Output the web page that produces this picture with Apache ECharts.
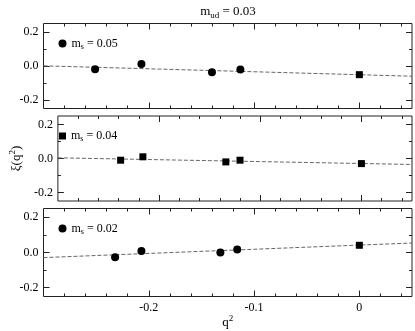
<!DOCTYPE html>
<html>
<head>
<meta charset="utf-8">
<script src="https://cdn.jsdelivr.net/npm/echarts@6/dist/echarts.min.js"></script>
<style>
html, body { margin: 0; padding: 0; background: #fff; }
#chart { width: 415px; height: 331px; }
</style>
</head>
<body>
<div id="chart"></div>
<script>
// values, one panel per m_s
var msLabels = ['0.05', '0.04', '0.02'];
var msSymbols = ['circle', 'rect', 'circle'];

var points05 = [[-0.251, -0.019], [-0.207, 0.012], [-0.140, -0.037], [-0.113, -0.021]];
var zero05 = [[0, -0.051]];
var fit05 = [[-0.3, 0.001], [0.05, -0.060]];

var points04 = [[-0.238, -0.010], [-0.216, 0.010], [-0.134, -0.020], [-0.120, -0.010]];
var zero04 = [[0, -0.030]];
var fit04 = [[-0.3, 0.004], [0.05, -0.035]];

var points02 = [[-0.232, -0.027], [-0.207, 0.008], [-0.132, 0.000], [-0.116, 0.017]];
var zero02 = [[0, 0.041]];
var fit02 = [[-0.3, -0.029], [0.05, 0.054]];

var panelPoints = [points05, points04, points02];
var panelZero = [zero05, zero04, zero02];
var panelFit = [fit05, fit04, fit02];

// ticks
var xMajor = [-0.2, -0.1, 0];
var xMinor = [-0.28, -0.26, -0.24, -0.22, -0.18, -0.16, -0.14, -0.12,
              -0.08, -0.06, -0.04, -0.02, 0.02, 0.04];
var yMajor = [-0.2, 0, 0.2];
var yMinor = [-0.1, 0.1];

var serif = 'Liberation Serif';
var tops = [23.5, 116, 208.5];
var heights = [85, 85, 88];

function tickAxis(kind, i, pos, values, len, withLabel) {
  return {
    type: 'value',
    gridIndex: i,
    position: pos,
    min: kind === 'x' ? -0.3 : -0.25,
    max: kind === 'x' ? 0.05 : 0.25,
    axisLine: { show: false, onZero: false },
    splitLine: { show: false },
    axisTick: {
      show: true, inside: true, length: len, customValues: values,
      lineStyle: { color: '#222', width: 1 }
    },
    axisLabel: {
      show: withLabel, customValues: values,
      fontFamily: serif, fontSize: 12, color: '#000', margin: 5,
      formatter: function (v) {
        if (kind === 'x' && v === 0) return '0';
        return v.toFixed(1);
      }
    }
  };
}

var grids = [], xAxes = [], yAxes = [], series = [], legends = [];

for (var i = 0; i < 3; i++) {
  grids.push({
    left: 43.5, top: tops[i], width: 368.5, height: heights[i],
    show: true, borderColor: '#222', borderWidth: 1, backgroundColor: 'transparent'
  });
  var xBase = xAxes.length, yBase = yAxes.length;
  xAxes.push(tickAxis('x', i, 'bottom', xMajor, 6, i === 2));
  xAxes.push(tickAxis('x', i, 'bottom', xMinor, 3, false));
  xAxes.push(tickAxis('x', i, 'top', xMajor, 6, false));
  xAxes.push(tickAxis('x', i, 'top', xMinor, 3, false));
  yAxes.push(tickAxis('y', i, 'left', yMajor, 6, true));
  yAxes.push(tickAxis('y', i, 'left', yMinor, 3, false));
  yAxes.push(tickAxis('y', i, 'right', yMajor, 6, false));
  yAxes.push(tickAxis('y', i, 'right', yMinor, 3, false));

  var name = 'ms' + msLabels[i];
  var isRect = msSymbols[i] === 'rect';
  series.push({
    type: 'line', xAxisIndex: xBase, yAxisIndex: yBase,
    data: panelFit[i], showSymbol: false, silent: true, z: 1,
    lineStyle: { color: '#666', width: 1, type: [4, 2] }
  });
  series.push({
    name: name, type: 'scatter', xAxisIndex: xBase, yAxisIndex: yBase,
    data: panelPoints[i], symbol: msSymbols[i], symbolSize: isRect ? 7 : 8,
    itemStyle: { color: '#000', opacity: 1 }, z: 3
  });
  series.push({
    type: 'scatter', xAxisIndex: xBase, yAxisIndex: yBase,
    data: panelZero[i], symbol: 'rect', symbolSize: 7,
    itemStyle: { color: '#000', opacity: 1 }, z: 3
  });
  legends.push({
    data: [name], left: isRect ? 54 : 53.5, top: tops[i] + 9,
    itemWidth: isRect ? 7 : 8, itemHeight: isRect ? 7 : 8, selectedMode: false,
    icon: msSymbols[i],
    formatter: function (n) { return '{m|m}{s|s}{m| = ' + n.slice(2) + '}'; },
    textStyle: {
      rich: {
        m: { fontFamily: serif, fontSize: 12, color: '#000' },
        s: { fontFamily: serif, fontSize: 8, color: '#000', padding: [6, 0, 0, 0] }
      }
    }
  });
}

// axis names
var nameRich = {
  n: { fontFamily: serif, fontSize: 13, color: '#000' },
  sup: { fontFamily: serif, fontSize: 9, color: '#000', padding: [0, 0, 8, 0] }
};
yAxes[4].name = '{n|ξ(q}{sup|2}{n|)}';
yAxes[4].nameLocation = 'middle';
yAxes[4].nameRotate = 90;
yAxes[4].nameGap = 28;
yAxes[4].nameTextStyle = { rich: nameRich };
xAxes[8].name = '{n|q}{sup|2}';
xAxes[8].nameLocation = 'middle';
xAxes[8].nameGap = 15;
xAxes[8].nameTextStyle = { rich: nameRich };

var chart = echarts.init(document.getElementById('chart'));
chart.setOption({
  animation: false,
  backgroundColor: '#fff',
  graphic: [{
    type: 'text', x: 228, y: 12,
    style: {
      text: '{m|m}{s|ud}{m| = 0.03}',
      align: 'center', verticalAlign: 'middle',
      rich: {
        m: { fontFamily: serif, fontSize: 13, fill: '#000' },
        s: { fontFamily: serif, fontSize: 9, fill: '#000', padding: [7, 0, 0, 0] }
      }
    }
  }],
  grid: grids,
  xAxis: xAxes,
  yAxis: yAxes,
  legend: legends,
  series: series
});
</script>
</body>
</html>
